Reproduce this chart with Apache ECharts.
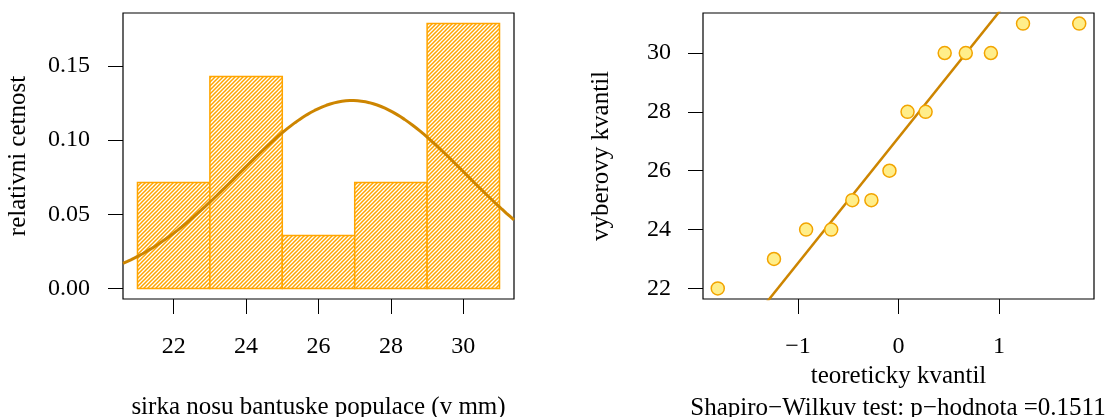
<!DOCTYPE html>
<html>
<head>
<meta charset="utf-8">
<script src="https://cdn.jsdelivr.net/npm/echarts@6/dist/echarts.min.js"></script>
<style>
  html, body { margin: 0; padding: 0; background: #fff; }
  #chart { width: 1107px; height: 417px; }
</style>
</head>
<body>
<div id="chart"></div>
<script>
// Histogram of nose widths (bin edges and relative frequencies)
const binEdges = [21, 23, 25, 27, 29, 31];
const relFreq = [0.0714, 0.1429, 0.0357, 0.0714, 0.1786];

// Ordered sample and matching theoretical normal quantiles for the Q-Q plot
const sampleSorted = [22, 23, 24, 24, 25, 25, 26, 28, 28, 30, 30, 30, 31, 31];
const theoQuantiles = [-1.80, -1.24, -0.92, -0.67, -0.46, -0.27, -0.09,
                        0.09, 0.27, 0.46, 0.67, 0.92, 1.24, 1.80];

// Tick labels
const histXTicks = [22, 24, 26, 28, 30];
const histYTicks = [0, 0.05, 0.10, 0.15];
const qqXTicks = [-1, 0, 1];
const qqYTicks = [22, 24, 26, 28, 30];

const FONT = 'Liberation Serif';
const ORANGE = '#FFA500';
const CURVE = '#CD8500';

// Sample mean / standard deviation for the fitted normal density
const n = sampleSorted.length;
const mean = sampleSorted.reduce((a, b) => a + b, 0) / n;
const sd = Math.sqrt(sampleSorted.reduce((a, b) => a + (b - mean) ** 2, 0) / (n - 1));
const dnorm = x => Math.exp(-0.5 * ((x - mean) / sd) ** 2) / (sd * Math.sqrt(2 * Math.PI));

const histXMin = 20.6, histXMax = 31.4;
const densityCurve = [];
for (let i = 0; i <= 200; i++) {
  const x = histXMin + (histXMax - histXMin) * i / 200;
  densityCurve.push([x, dnorm(x)]);
}

// Reference line through the quartiles (type-7 sample quantiles)
function quantile(arr, p) {
  const h = (arr.length - 1) * p;
  const lo = Math.floor(h);
  return arr[lo] + (h - lo) * ((arr[lo + 1] ?? arr[lo]) - arr[lo]);
}
const z75 = 0.6744898;
const q1 = quantile(sampleSorted, 0.25), q3 = quantile(sampleSorted, 0.75);
const slope = (q3 - q1) / (2 * z75);
const intercept = q1 + z75 * slope;
const qqLine = [[-3, intercept - 3 * slope], [3, intercept + 3 * slope]];

// Diagonal hatch pattern for the bars
const hatch = document.createElement('canvas');
hatch.width = 4; hatch.height = 4;
(function () {
  const c = hatch.getContext('2d');
  c.fillStyle = '#fff';
  c.fillRect(0, 0, 4, 4);
  c.strokeStyle = ORANGE;
  c.lineWidth = 1.5;
  c.beginPath();
  c.moveTo(-1, 5); c.lineTo(5, -1);
  c.moveTo(-1, 1); c.lineTo(1, -1);
  c.moveTo(3, 5); c.lineTo(5, 3);
  c.stroke();
})();

const tickStyle = { show: true, length: 15, inside: false, lineStyle: { color: '#000', width: 1 } };
const labelStyle = { color: '#000', fontFamily: FONT, fontSize: 24 };
const nameStyle = { color: '#000', fontFamily: FONT, fontSize: 25 };
const hiddenLine = { show: false, onZero: false };

const chart = echarts.init(document.getElementById('chart'), null, { renderer: 'canvas' });
chart.setOption({
  animation: false,
  backgroundColor: '#fff',
  grid: [
    { left: 123, top: 13, width: 391, height: 286, show: true, borderColor: '#000', borderWidth: 1.2,
      backgroundColor: 'transparent', containLabel: false, outerBoundsMode: 'none' },
    { left: 703, top: 13, width: 391, height: 286, show: true, borderColor: '#000', borderWidth: 1.2,
      backgroundColor: 'transparent', containLabel: false, outerBoundsMode: 'none' }
  ],
  xAxis: [
    {
      gridIndex: 0, type: 'value', min: histXMin, max: histXMax,
      axisLine: hiddenLine, splitLine: { show: false },
      axisTick: Object.assign({ customValues: histXTicks }, tickStyle),
      axisLabel: Object.assign({ customValues: histXTicks, margin: 36 }, labelStyle),
      name: 'sirka nosu bantuske populace (v mm)', nameLocation: 'middle', nameGap: 96,
      nameTextStyle: nameStyle
    },
    {
      gridIndex: 1, type: 'value', min: -1.947, max: 1.947,
      axisLine: hiddenLine, splitLine: { show: false },
      axisTick: Object.assign({ customValues: qqXTicks }, tickStyle),
      axisLabel: Object.assign({ customValues: qqXTicks, margin: 36,
        formatter: v => (v < 0 ? '\u2212' + Math.abs(v) : String(v)) }, labelStyle),
      name: 'teoreticky kvantil', nameLocation: 'middle', nameGap: 65,
      nameTextStyle: nameStyle
    }
  ],
  yAxis: [
    {
      gridIndex: 0, type: 'value', min: -0.00714, max: 0.18571,
      axisLine: hiddenLine, splitLine: { show: false },
      axisTick: Object.assign({ customValues: histYTicks }, tickStyle),
      axisLabel: Object.assign({ customValues: histYTicks, margin: 33,
        formatter: v => v.toFixed(2) }, labelStyle),
      name: 'relativni cetnost', nameLocation: 'middle', nameGap: 92,
      nameTextStyle: nameStyle
    },
    {
      gridIndex: 1, type: 'value', min: 21.64, max: 31.36,
      axisLine: hiddenLine, splitLine: { show: false },
      axisTick: Object.assign({ customValues: qqYTicks }, tickStyle),
      axisLabel: Object.assign({ customValues: qqYTicks, margin: 32 }, labelStyle),
      name: 'vyberovy kvantil', nameLocation: 'middle', nameGap: 89,
      nameTextStyle: nameStyle
    }
  ],
  graphic: [
    {
      type: 'text', x: 898, y: 408,
      style: {
        text: 'Shapiro\u2212Wilkuv test: p\u2212hodnota =0.1511',
        fill: '#000', font: '25px "Liberation Serif"',
        textAlign: 'center', textVerticalAlign: 'middle'
      }
    }
  ],
  series: [
    {
      type: 'custom', xAxisIndex: 0, yAxisIndex: 0,
      data: relFreq.map((f, i) => [binEdges[i], binEdges[i + 1], f]),
      renderItem: function (params, api) {
        const p0 = api.coord([api.value(0), 0]);
        const p1 = api.coord([api.value(1), api.value(2)]);
        return {
          type: 'rect',
          shape: { x: p0[0], y: p1[1], width: p1[0] - p0[0], height: p0[1] - p1[1] },
          style: { fill: { image: hatch, repeat: 'repeat' }, stroke: ORANGE, lineWidth: 1.5 }
        };
      }
    },
    {
      type: 'line', xAxisIndex: 0, yAxisIndex: 0,
      data: densityCurve, showSymbol: false, clip: true,
      lineStyle: { color: CURVE, width: 3 }
    },
    {
      type: 'line', xAxisIndex: 1, yAxisIndex: 1,
      data: qqLine, showSymbol: false, clip: true,
      lineStyle: { color: CURVE, width: 2.5 }, z: 2
    },
    {
      type: 'scatter', xAxisIndex: 1, yAxisIndex: 1,
      data: sampleSorted.map((v, i) => [theoQuantiles[i], v]),
      symbol: 'circle', symbolSize: 13,
      itemStyle: { color: '#FFEE8A', borderColor: '#F2A400', borderWidth: 1.5, opacity: 1 },
      z: 3
    }
  ]
});
</script>
</body>
</html>
